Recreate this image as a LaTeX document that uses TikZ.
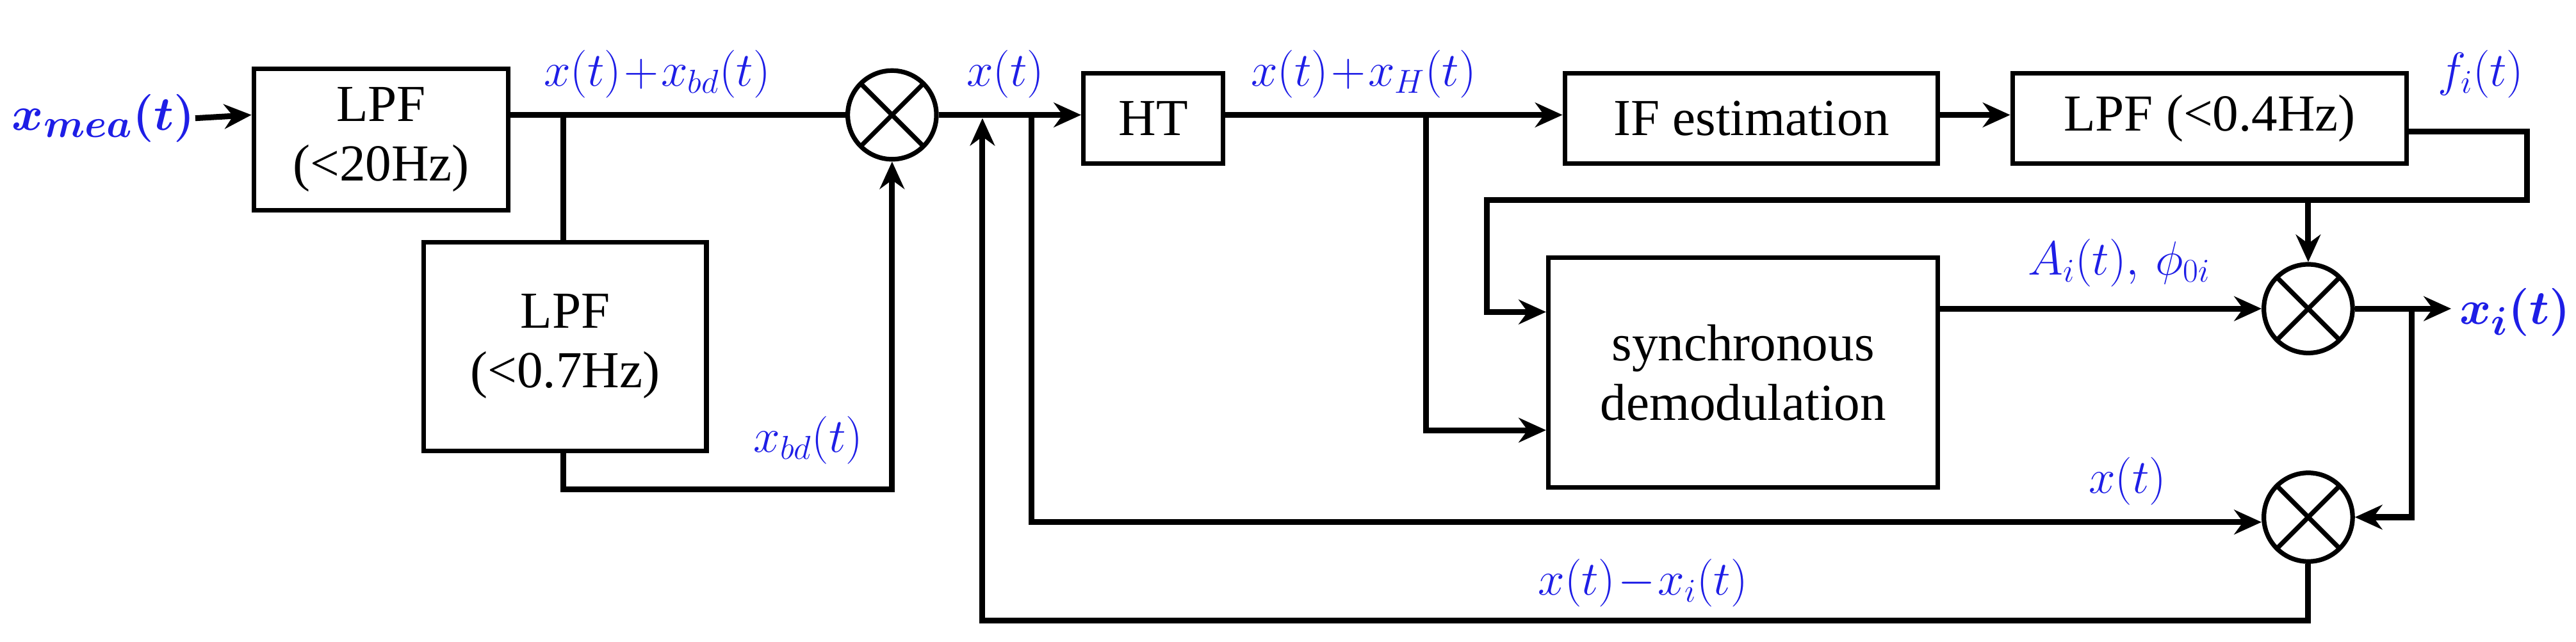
\documentclass[tikz,border=0pt]{standalone}
\usepackage{bm}
\usepackage{fontspec}
\setmainfont{Liberation Serif}
\usetikzlibrary{arrows.meta}
\definecolor{lb}{RGB}{30,30,230}
\begin{document}
\begin{tikzpicture}[x=0.3mm,y=-0.3mm,
  ln/.style={line width=3pt},
  ar/.style={ln,-{Stealth[length=5mm,width=4.5mm]}},
  bx/.style={draw,line width=2.4pt,font=\fontsize{27}{31}\selectfont,align=center,inner sep=0pt},
  mx/.style={draw,line width=2.4pt,circle,minimum size=16.2mm,inner sep=0pt,path picture={\draw[line width=2.4pt] (path picture bounding box.north west)--(path picture bounding box.south east) (path picture bounding box.north east)--(path picture bounding box.south west);}},
  lab/.style={text=lb,font=\fontsize{27}{31}\selectfont,inner sep=0pt}]
\useasboundingbox (0,0) rectangle (1568,391);
\node[lab,font=\fontsize{30}{34}\selectfont] (xin) at (63,72) {$\bm{x_{mea}(t)}$};
\node[bx,minimum width=46.5mm,minimum height=25.8mm] (lpf1) at (232,85) {LPF\\(<20Hz)};
\node[bx,minimum width=51.6mm,minimum height=38.1mm] (lpf2) at (344,211) {LPF\\(<0.7Hz)};
\node[mx] (m1) at (543,70) {};
\node[bx,minimum width=25.5mm,minimum height=16.5mm] (ht) at (702,72) {HT};
\node[bx,minimum width=68.1mm,minimum height=16.5mm] (ife) at (1066,72) {IF estimation};
\node[bx,minimum width=72mm,minimum height=16.5mm] (lpf3) at (1345,72) {LPF (<0.4Hz)};
\node[bx,minimum width=71.1mm,minimum height=42mm] (sd) at (1061,227) {synchronous\\demodulation};
\node[mx] (m2) at (1405,188) {};
\node[mx] (m3) at (1405,315) {};
\coordinate (xo) at (1492,188);
\node[lab,anchor=west,font=\fontsize{30}{34}\selectfont] at (1497,190) {$\bm{x_i(t)}$};
\draw[ar] (xin.east) -- (lpf1.west|-0,70);
\draw[ln] (lpf1.east|-0,70) -- (m1.west);
\draw[ln] (343,70) -- (lpf2.north-|343,0);
\draw[ar] (lpf2.south-|343,0) -- (343,298) -- (543,298) -- (m1.south);
\node[lab] at (400,45) {$x(t)\!+\!x_{bd}(t)$};
\node[lab] at (492,268) {$x_{bd}(t)$};
\draw[ar] (m1.east) -- (ht.west|-0,70);
\node[lab] at (612,45) {$x(t)$};
\draw[ar] (ht.east|-0,70) -- (ife.west|-0,70);
\node[lab] at (830,45) {$x(t)\!+\!x_H(t)$};
\draw[ar] (ife.east|-0,70) -- (lpf3.west|-0,70);
\node[lab] at (1510,45) {$f_i(t)$};
\draw[ar] (lpf3.east|-0,80) -- (1538,80) -- (1538,122) -- (905,122) -- (905,190) -- (sd.west|-0,190);
\draw[ar] (1405,122) -- (m2.north);
\draw[ar] (868,70) -- (868,262) -- (sd.west|-0,262);
\draw[ar] (sd.east|-0,188) -- (m2.west);
\node[lab] at (1290,160) {$A_i(t),\,\phi_{0i}$};
\draw[ar] (m2.east) -- (xo);
\draw[ar] (1468,188) -- (1468,315) -- (m3.east);
\draw[ar] (628,70) -- (628,318) -- (m3.west|-0,318);
\node[lab] at (1295,293) {$x(t)$};
\draw[ar] (m3.south) -- (1405,378) -- (598,378) -- (598,72);
\node[lab] at (1000,355) {$x(t)\!-\!x_i(t)$};
\end{tikzpicture}
\end{document}
